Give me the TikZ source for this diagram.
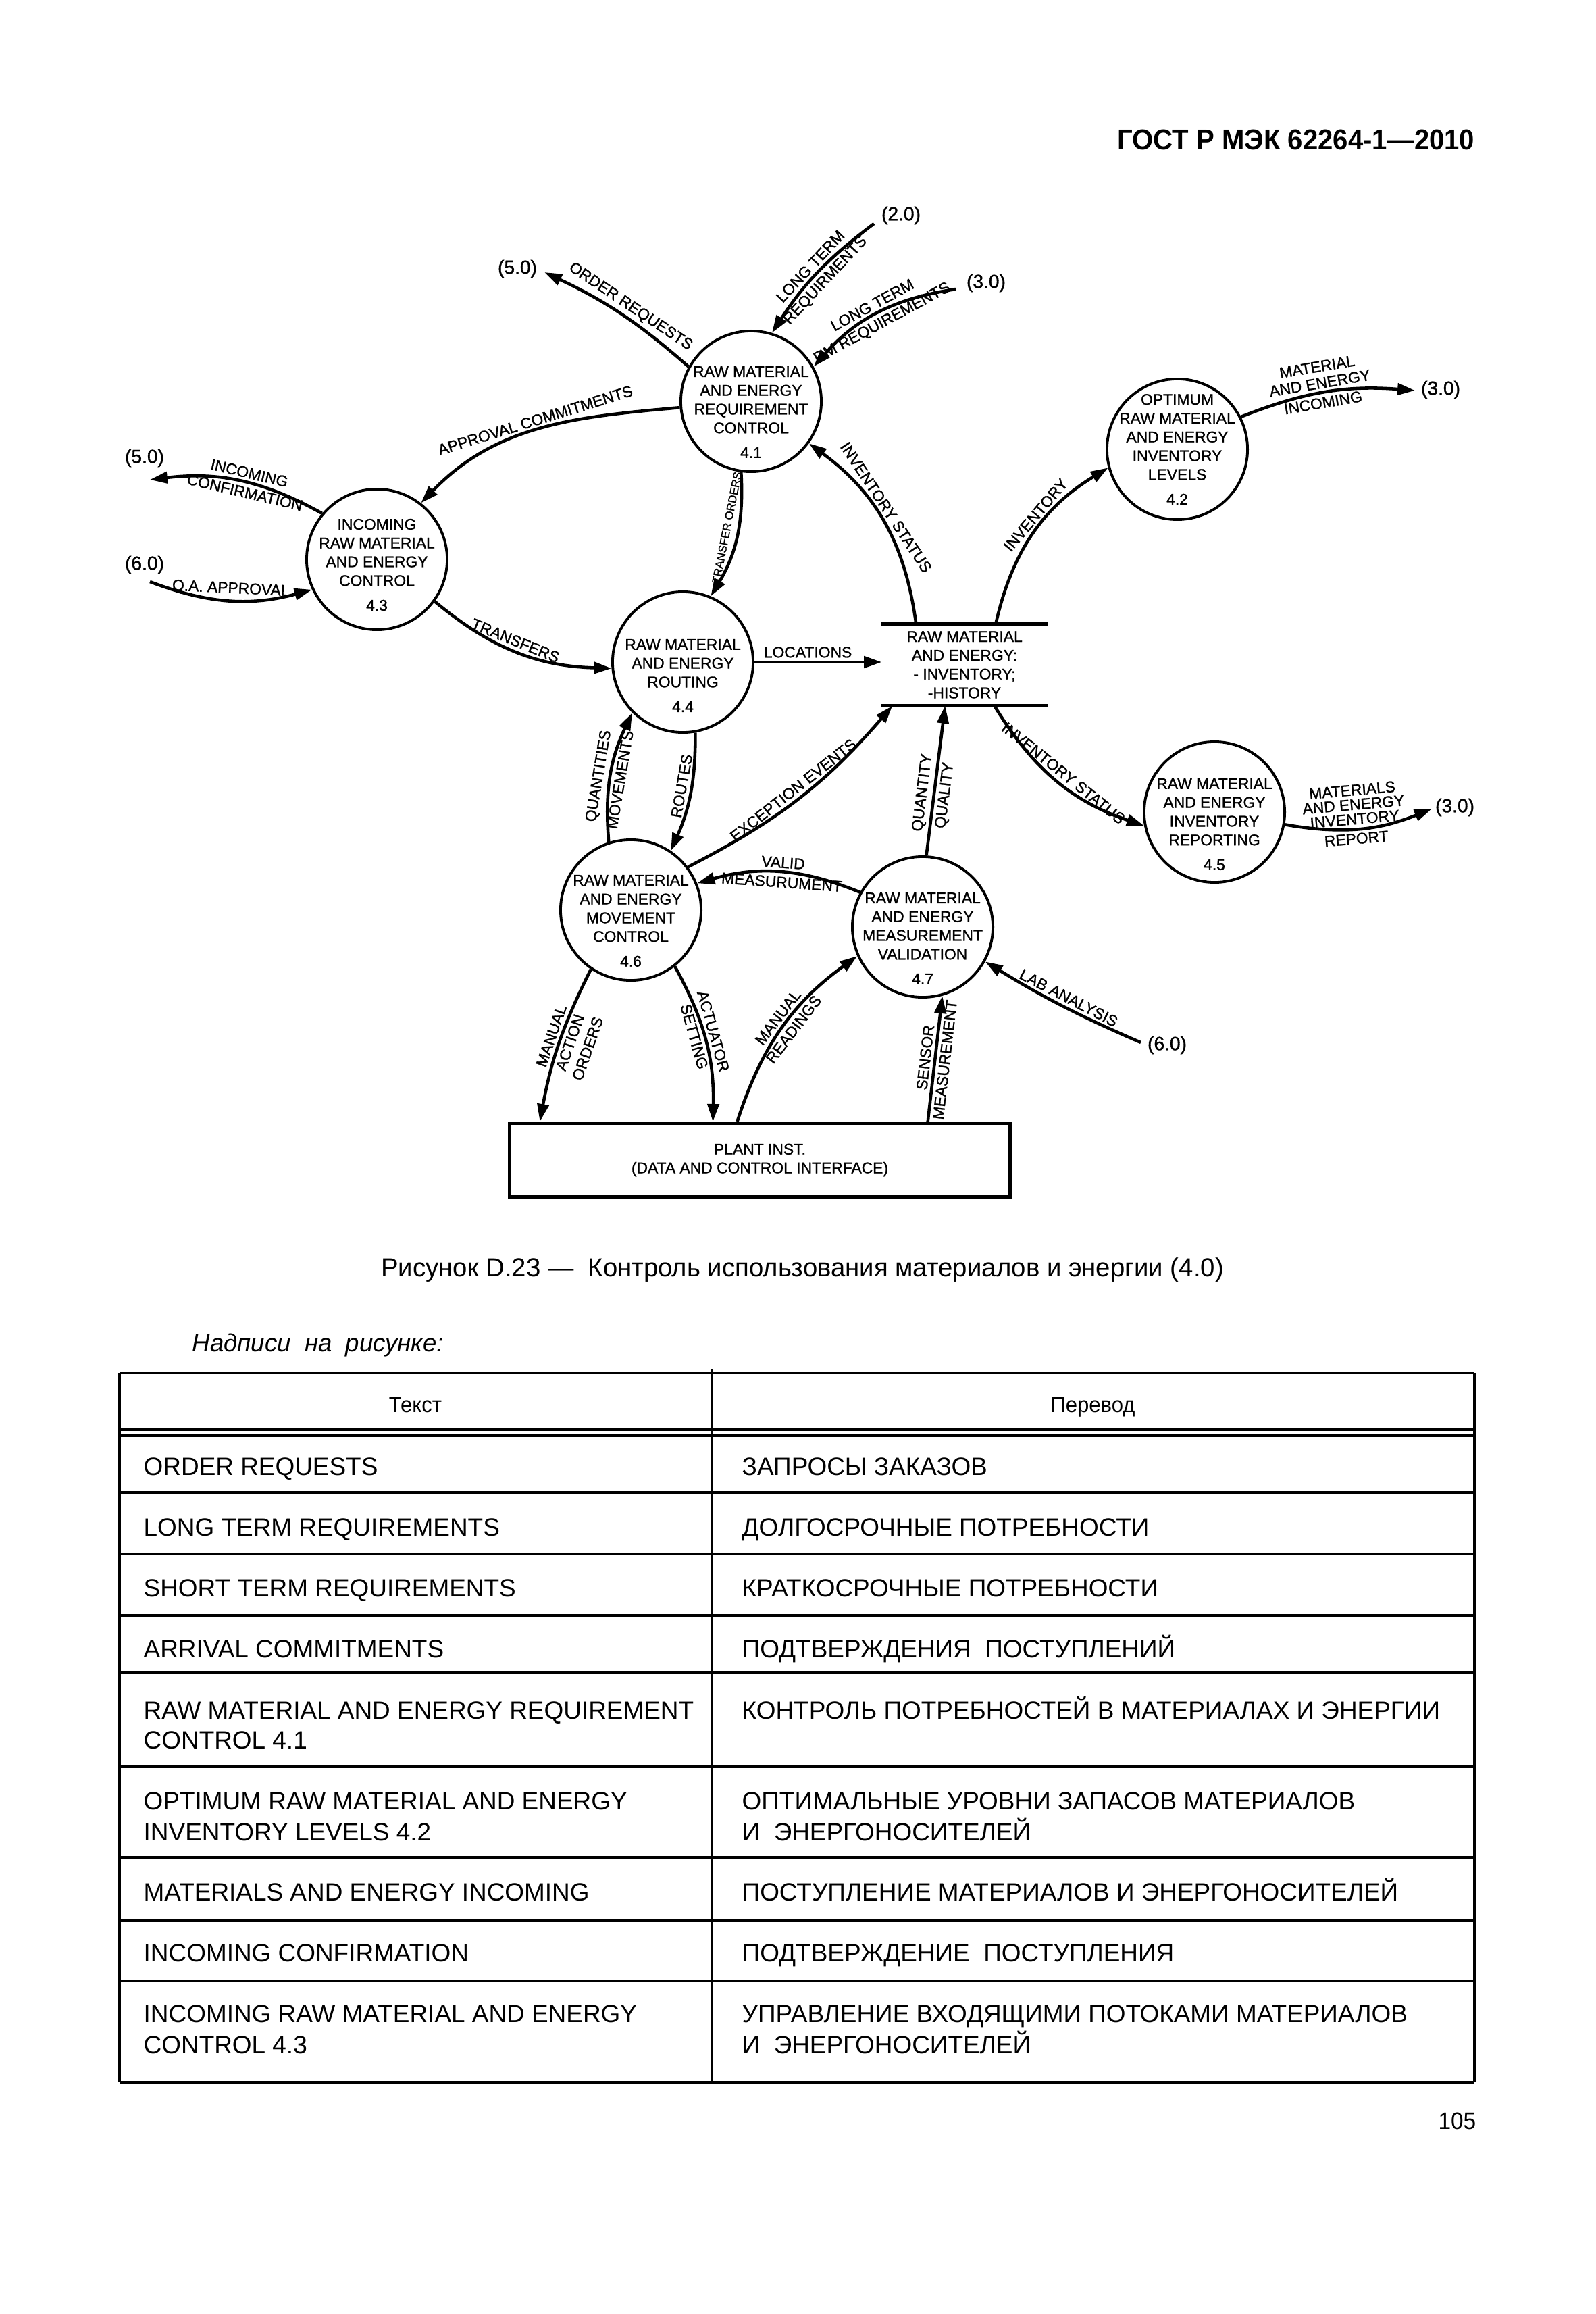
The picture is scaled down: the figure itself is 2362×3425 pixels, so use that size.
\documentclass[tikz,border=0pt]{standalone}
\usepackage{fontspec}
\setmainfont{Liberation Sans}
\newfontfamily\narrowfont[FakeStretch=0.95]{Liberation Sans}
\newfontfamily\diagfont[FakeBold=1.2]{Liberation Sans}
\usetikzlibrary{arrows.meta}

\begin{document}
\begin{tikzpicture}[x=0.01cm, y=0.01cm,
    font=\diagfont\fontsize{6.5}{7.9}\selectfont,
    proc/.style 2 args={circle, draw, line width=1.1pt, minimum size=2.08cm,
      inner sep=0pt, label={[align=center, inner sep=0pt, yshift=#2]center:{#1}}},
    store/.style={minimum width=2.44cm, minimum height=1.2cm,
      inner sep=0pt, align=center},
    plant/.style={draw, line width=1.4pt, minimum width=7.4cm,
      minimum height=1.09cm, align=center},
    flow/.style={line width=1.3pt, -{Triangle[length=0.26cm,width=0.17cm]}},
    lab/.style={sloped, inner sep=1.2pt, align=center},
    ext/.style={inner sep=0pt, font=\diagfont\fontsize{8}{9}\selectfont},
    cell/.style={anchor=base west, inner sep=0pt,
      font=\rmfamily\fontsize{10.5}{12}\selectfont}
    ]
  \path[fill=white] (0,0) rectangle (2362,-3425);

  \node[anchor=base east, inner sep=0pt,
    font=\narrowfont\bfseries\fontsize{12}{14}\selectfont] (gost)
    at (2184,-222) {ГОСТ Р МЭК 62264-1—2010};

  % processes
  \node[proc={RAW MATERIAL\\AND ENERGY\\REQUIREMENT\\CONTROL\\[2.5pt]4.1}{-0.16cm}] (c41) at (1112,-594) {};
  \node[proc={OPTIMUM\\RAW MATERIAL\\AND ENERGY\\INVENTORY\\LEVELS\\[2.5pt]4.2}{0cm}] (c42) at (1743,-665) {};
  \node[proc={INCOMING\\RAW MATERIAL\\AND ENERGY\\CONTROL\\[2.5pt]4.3}{-0.08cm}] (c43) at (558,-828) {};
  \node[proc={RAW MATERIAL\\AND ENERGY\\ROUTING\\[2.5pt]4.4}{-0.2cm}] (c44) at (1011,-980) {};
  \node[proc={RAW MATERIAL\\AND ENERGY\\INVENTORY\\REPORTING\\[2.5pt]4.5}{-0.18cm}] (c45) at (1798,-1202) {};
  \node[proc={RAW MATERIAL\\AND ENERGY\\MOVEMENT\\CONTROL\\[2.5pt]4.6}{-0.16cm}] (c46) at (934,-1347) {};
  \node[proc={RAW MATERIAL\\AND ENERGY\\MEASUREMENT\\VALIDATION\\[2.5pt]4.7}{-0.17cm}] (c47) at (1366,-1372) {};

  % data store and plant
  \node[store] (store) at (1428,-984) {RAW MATERIAL\\AND ENERGY:\\- INVENTORY;\\-HISTORY};
  \draw[line width=1.4pt] (store.north west) -- (store.north east)
    (store.south west) -- (store.south east);
  \node[plant] (plant) at (1125,-1717) {PLANT INST.\\(DATA AND CONTROL INTERFACE)};

  % outside functions
  \coordinate (e20) at (1294,-331);
  \coordinate (e30a) at (1415,-428);
  \coordinate (e50a) at (806,-403);
  \coordinate (e50b) at (222,-710);
  \coordinate (e60a) at (222,-861);
  \coordinate (e30b) at (2095,-578);
  \coordinate (e30c) at (2120,-1197);
  \coordinate (e60b) at (1689,-1543);
  \node[ext] (x50a) at (766,-398) {(5.0)};
  \node[ext] (x20) at (1334,-319) {(2.0)};
  \node[ext] (x30a) at (1460,-419) {(3.0)};
  \node[ext] (x50b) at (214,-678) {(5.0)};
  \node[ext] (x60a) at (214,-836) {(6.0)};
  \node[ext] (x30b) at (2133,-577) {(3.0)};
  \node[ext] (x30c) at (2154,-1195) {(3.0)};
  \node[ext] (x60b) at (1728,-1547) {(6.0)};

  % flows
  \draw[flow] (c41.151) to[bend right=8] node[lab, above, pos=0.47] {ORDER REQUESTS} (e50a);
  \draw[flow] (e20) to[bend right=10] node[lab, above, pos=0.5] {LONG TERM}
    node[lab, below, pos=0.5] {REQUIRMENTS} (c41.73);
  \draw[flow] (e30a) to[bend right=20] node[lab, above, pos=0.5] {LONG TERM}
    node[lab, below, pos=0.5] {RM REQUIREMENTS} (c41.29);
  \draw[flow] (c41.185) to[out=185, in=46] node[lab, above, pos=0.5] {APPROVAL COMMITMENTS} (c43.52);
  \draw[flow] (c43.140) to[bend right=18] node[lab, above, pos=0.45] {INCOMING}
    node[lab, below, pos=0.45] {CONFIRMATION} (e50b);
  \draw[flow] (e60a) to[bend right=18] node[lab, above, pos=0.5] {Q.A. APPROVAL} (c43.205);
  \draw[flow] (c43.324) to[bend right=19] node[lab, above, pos=0.47] {TRANSFERS} (c44.185);
  \draw[flow] (c41.262) to[bend left=17] node[lab, above, pos=0.44, inner sep=2.5pt,
    font=\diagfont\fontsize{4.8}{5.5}\selectfont] {TRANSFER ORDERS} (c44.67);
  \draw[flow] ([xshift=0.51cm]store.north west) to[bend right=23]
    node[lab, above, pos=0.55] {INVENTORY STATUS} (c41.324);
  \draw[flow] ([xshift=1.69cm]store.north west) to[bend left=23]
    node[lab, above, pos=0.58] {INVENTORY} (c42.195);
  \draw[flow] (c42.27) to[bend left=13]
    node[lab, above, pos=0.47, font=\diagfont\fontsize{6.5}{7}\selectfont] {MATERIAL\\AND ENERGY}
    node[lab, below, pos=0.47] {INCOMING} (e30b);
  \draw[flow] (c44.east) -- node[lab, above, pos=0.42] {LOCATIONS} (c44.east -| store.west);
  \draw[flow] ([xshift=1.67cm]store.south west) to[bend right=20]
    node[lab, above, pos=0.5] {INVENTORY STATUS} (c45.191);
  \draw[flow] (c45.350) to[bend right=16]
    node[lab, above, pos=0.47, font=\diagfont\fontsize{6.5}{6.1}\selectfont] {MATERIALS\\AND ENERGY\\INVENTORY}
    node[lab, below, pos=0.47] {REPORT} (e30c);
  \draw[flow] (c47.87) -- node[lab, above, pos=0.41] {QUANTITY}
    node[lab, below, pos=0.41] {QUALITY} ([xshift=0.94cm]store.south west);
  \draw[flow] (c46.37) to[bend right=11] node[lab, above, pos=0.5] {EXCEPTION EVENTS}
    ([xshift=0.16cm]store.south west);
  \draw[flow] (c47.151) to[bend right=19] node[lab, above, pos=0.48] {VALID}
    node[lab, below, pos=0.48] {MEASURUMENT} (c46.22);
  \draw[flow] (c44.280) to[bend left=12] node[lab, above, pos=0.45] {ROUTES} (c46.56);
  \draw[flow] (c46.108) to[bend left=15] node[lab, above, pos=0.48] {QUANTITIES}
    node[lab, below, pos=0.48] {MOVEMENTS} (c44.225);
  \draw[flow] (c46.236) to[bend right=8] node[lab, above, pos=0.47] {MANUAL}
    node[lab, below, pos=0.47] {ACTION\\ORDERS} ([xshift=0.47cm]plant.north west);
  \draw[flow] (c46.308) to[bend left=15] node[lab, above, pos=0.45] {ACTUATOR}
    node[lab, below, pos=0.45] {SETTING} ([xshift=3.03cm]plant.north west);
  \draw[flow] ([xshift=3.39cm]plant.north west) to[bend left=18]
    node[lab, above, pos=0.53] {MANUAL} node[lab, below, pos=0.53] {READINGS} (c47.204);
  \draw[flow] ([xshift=6.21cm]plant.north west) -- node[lab, above, pos=0.5] {SENSOR}
    node[lab, below, pos=0.5] {MEASUREMENT} (c47.286);
  \draw[flow] (e60b) to[bend left=4] node[lab, above, pos=0.48] {LAB ANALYSIS} (c47.331);

  % caption and table
  \node[anchor=base, inner sep=0pt, font=\rmfamily\fontsize{10.9}{13}\selectfont] (cap)
    at (1188,-1889) {Рисунок D.23 — \ Контроль использования материалов и энергии (4.0)};
  \node[anchor=base west, inner sep=0pt, font=\rmfamily\itshape\fontsize{10.4}{12}\selectfont]
    (notes) at (284,-2000) {Надписи\ \ на\ \ рисунке:};
  \foreach \ty in {2032,2116,2125,2209,2300,2391,2476,2615,2749,2843,2932,3082}
    \draw[line width=1pt] (177,-\ty) -- (2183,-\ty);
  \draw[line width=1pt] (177,-2032) -- (177,-3082) (2183,-2032) -- (2183,-3082);
  \draw[line width=0.6pt] (1054,-2026) -- (1054,-3082);
  \node[anchor=base, inner sep=0pt, font=\narrowfont\fontsize{9.3}{11}\selectfont] (h1)
    at (615,-2090) {Текст};
  \node[anchor=base, inner sep=0pt, font=\narrowfont\fontsize{9.3}{11}\selectfont] (h2)
    at (1618,-2090) {Перевод};
  \foreach \ty/\txt in {2183/ORDER REQUESTS, 2273/LONG TERM REQUIREMENTS,
      2363/SHORT TERM REQUIREMENTS, 2453/ARRIVAL COMMITMENTS,
      2544/RAW MATERIAL AND ENERGY REQUIREMENT, 2588/CONTROL 4.1,
      2678/OPTIMUM RAW MATERIAL AND ENERGY, 2724/INVENTORY LEVELS 4.2,
      2813/MATERIALS AND ENERGY INCOMING, 2903/INCOMING CONFIRMATION,
      2993/INCOMING RAW MATERIAL AND ENERGY, 3039/CONTROL 4.3}
    \node[cell] (tl\ty) at (212,-\ty) {\txt};
  \foreach \ty/\txt in {2183/ЗАПРОСЫ ЗАКАЗОВ, 2273/ДОЛГОСРОЧНЫЕ ПОТРЕБНОСТИ,
      2363/КРАТКОСРОЧНЫЕ ПОТРЕБНОСТИ, 2453/ПОДТВЕРЖДЕНИЯ\ \ ПОСТУПЛЕНИЙ,
      2544/КОНТРОЛЬ ПОТРЕБНОСТЕЙ В МАТЕРИАЛАХ И ЭНЕРГИИ,
      2678/ОПТИМАЛЬНЫЕ УРОВНИ ЗАПАСОВ МАТЕРИАЛОВ, 2724/И\ \ ЭНЕРГОНОСИТЕЛЕЙ,
      2813/ПОСТУПЛЕНИЕ МАТЕРИАЛОВ И ЭНЕРГОНОСИТЕЛЕЙ,
      2903/ПОДТВЕРЖДЕНИЕ\ \ ПОСТУПЛЕНИЯ,
      2993/УПРАВЛЕНИЕ ВХОДЯЩИМИ ПОТОКАМИ МАТЕРИАЛОВ, 3039/И\ \ ЭНЕРГОНОСИТЕЛЕЙ}
    \node[cell] (tr\ty) at (1098,-\ty) {\txt};
  \node[anchor=base east, inner sep=0pt, font=\narrowfont\fontsize{10}{12}\selectfont] (pg)
    at (2186,-3151) {105};
\end{tikzpicture}
\end{document}
